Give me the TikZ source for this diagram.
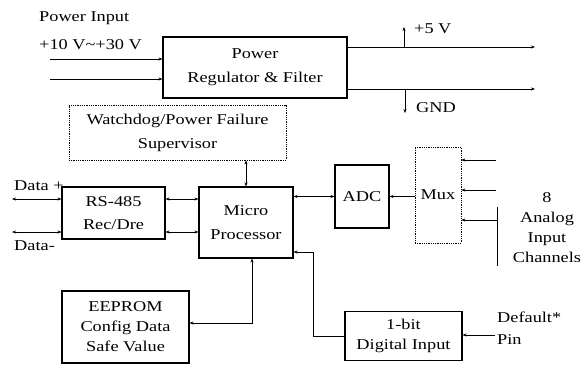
\documentclass[tikz,border=0pt]{standalone}
\usepackage{fontspec}
\setmainfont[FakeStretch=1.22]{Liberation Serif}
\usetikzlibrary{arrows.meta,positioning,calc}

\begin{document}
\begin{tikzpicture}[x=1pt,y=-1pt,>={Stealth[length=4pt,width=3pt]},
    every node/.style={font=\fontsize{15}{20}\selectfont},
    blk/.style={draw, line width=1.1pt, align=center, inner sep=0pt},
    dblk/.style={draw, densely dotted, line width=0.8pt, align=center, inner sep=0pt},
    wire/.style={line width=0.5pt},
    lbl/.style={inner sep=0pt}]
  \useasboundingbox (0,0) rectangle (582,365);
  % blocks
  \node[blk, minimum width=184pt, minimum height=61pt] (pwr) at (255,67.5) {Power\\[4pt]Regulator \& Filter};
  \node[dblk, minimum width=217pt, minimum height=55pt] (wd) at (177.5,132.5) {Watchdog/Power Failure\\[4pt]Supervisor};
  \node[blk, minimum width=103pt, minimum height=52pt] (rs) at (113.5,213) {RS-485\\[3pt]Rec/Dre};
  \node[blk, minimum width=94pt, minimum height=71pt] (mcu) at (246,222.5) {Micro\\[4pt]Processor};
  \node[blk, minimum width=54pt, minimum height=63pt] (adc) at (362,196.5) {ADC};
  \node[dblk, minimum width=46pt, minimum height=96pt] (mux) at (438,195) {Mux};
  \node[blk, minimum width=127pt, minimum height=72pt] (ee) at (125.5,327) {EEPROM\\Config Data\\Safe Value};
  \node[blk, minimum width=117pt, minimum height=49pt] (dig) at (403.5,336) {1-bit\\Digital Input};
  % free ends
  \coordinate (in1) at (50,59);
  \coordinate (in2) at (50,79);
  \coordinate (o5) at (535,47);
  \coordinate (ogd) at (535,89);
  \coordinate (t5) at (404,27);
  \coordinate (tg) at (405,113);
  \coordinate (dp) at (12,199);
  \coordinate (dm) at (12,232);
  \coordinate (a1) at (496,160);
  \coordinate (a2) at (496,190);
  \coordinate (a3) at (497,220);
  \coordinate (vt) at (497,207);
  \coordinate (vb) at (497,266);
  \coordinate (ec) at (252,323);
  \coordinate (dc) at (313,252);
  \coordinate (dpin) at (495,335);
  % labels
  \node[lbl, anchor=west] (pin) at (39,18) {Power Input};
  \node[lbl, anchor=west] (vin) at (39,45) {+10 V\textasciitilde+30 V};
  \node[lbl, anchor=west] (l5) at (414,29) {+5 V};
  \node[lbl, anchor=west] (lg) at (416,108) {GND};
  \node[lbl, anchor=west] (ldp) at (14,186) {Data +};
  \node[lbl, anchor=west] (ldm) at (14,246) {Data-};
  \node[lbl, align=center] (lch) at (547,227.5) {8\\Analog\\Input\\Channels};
  \node[lbl, anchor=west] (ldef) at (497,317) {Default*};
  \node[lbl, anchor=west] (lpn) at (497,340) {Pin};
  % power
  \draw[wire,->] (in1) -- (in1 -| pwr.west);
  \draw[wire,->] (in2) -- (in2 -| pwr.west);
  \draw[wire,->] (o5 -| pwr.east) -- (o5);
  \draw[wire,->] (ogd -| pwr.east) -- (ogd);
  \draw[wire,->] (t5 |- o5) -- (t5);
  \draw[wire,->] (tg |- ogd) -- (tg);
  % data
  \draw[wire,<->] (dp) -- (dp -| rs.west);
  \draw[wire,<->] (dm) -- (dm -| rs.west);
  \draw[wire,<->] (dp -| rs.east) -- (dp -| mcu.west);
  \draw[wire,<->] (dm -| rs.east) -- (dm -| mcu.west);
  \draw[wire,<->] (wd.south -| mcu.north) -- (mcu.north);
  \draw[wire,<->] (adc.west -| mcu.east) -- (adc.west);
  \draw[wire,->] (adc.east -| mux.west) -- (adc.east);
  % analog inputs
  \draw[wire,->] (a1) -- (a1 -| mux.east);
  \draw[wire,->] (a2) -- (a2 -| mux.east);
  \draw[wire,->] (a3) -- (a3 -| mux.east);
  \draw[wire] (vt) -- (vb);
  % eeprom and digital input
  \draw[wire,<->] (mcu.south -| ec) -- (ec) -- (ec -| ee.east);
  \draw[wire,->] (dig.west) -- (dig.west -| dc) -- (dc) -- (dc -| mcu.east);
  \draw[wire,->] (dpin) -- (dpin -| dig.east);
\end{tikzpicture}
\end{document}
